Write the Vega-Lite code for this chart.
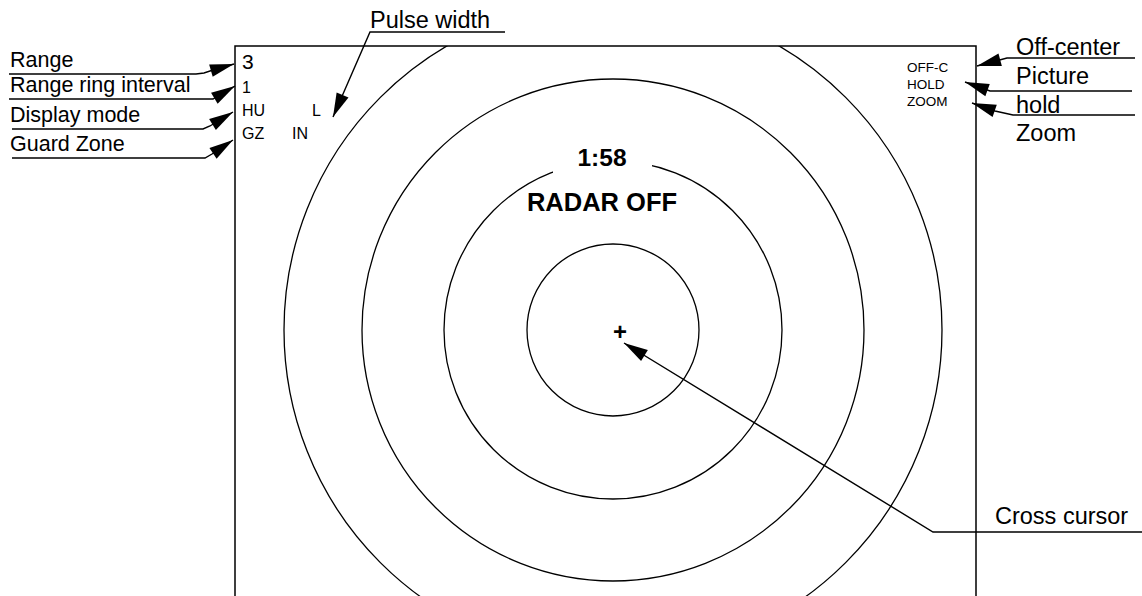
{
  "$schema": "https://vega.github.io/schema/vega-lite/v6.json",
  "width": 741,
  "height": 554,
  "autosize": "none",
  "padding": {"left": 235, "top": 46, "right": 166, "bottom": 0},
  "background": "white",
  "config": {"view": {"stroke": "black", "strokeWidth": 1.5}},
  "datasets": {
    "rings": [
      {"x": 613, "y": 330, "r": 86},
      {"x": 613, "y": 330, "r": 169},
      {"x": 613, "y": 330, "r": 251},
      {"x": 613, "y": 330, "r": 329}
    ],
    "gap": [{"x": 553, "x2": 652, "y": 150, "y2": 180}],
    "leaders": [
      {"id": "Range", "i": 0, "x": 9, "y": 74},
      {"id": "Range", "i": 1, "x": 196, "y": 74},
      {"id": "Range", "i": 2, "x": 204, "y": 73},
      {"id": "Range", "i": 3, "x": 213, "y": 70},
      {"id": "Range", "i": 4, "x": 234, "y": 64},
      {"id": "Interval", "i": 0, "x": 9, "y": 99},
      {"id": "Interval", "i": 1, "x": 213, "y": 99},
      {"id": "Interval", "i": 2, "x": 235, "y": 86},
      {"id": "Mode", "i": 0, "x": 12, "y": 129},
      {"id": "Mode", "i": 1, "x": 203, "y": 129},
      {"id": "Mode", "i": 2, "x": 210, "y": 126},
      {"id": "Mode", "i": 3, "x": 233, "y": 112},
      {"id": "Guard", "i": 0, "x": 12, "y": 158},
      {"id": "Guard", "i": 1, "x": 205, "y": 158},
      {"id": "Guard", "i": 2, "x": 212, "y": 154},
      {"id": "Guard", "i": 3, "x": 233, "y": 140},
      {"id": "Pulse", "i": 0, "x": 505, "y": 32},
      {"id": "Pulse", "i": 1, "x": 370, "y": 32},
      {"id": "Pulse", "i": 2, "x": 333, "y": 117},
      {"id": "Off", "i": 0, "x": 1135, "y": 58},
      {"id": "Off", "i": 1, "x": 1007, "y": 58},
      {"id": "Off", "i": 2, "x": 977, "y": 66},
      {"id": "Picture", "i": 0, "x": 1132, "y": 91},
      {"id": "Picture", "i": 1, "x": 990, "y": 91},
      {"id": "Picture", "i": 2, "x": 965, "y": 82},
      {"id": "Hold", "i": 0, "x": 1135, "y": 115},
      {"id": "Hold", "i": 1, "x": 1013, "y": 115},
      {"id": "Hold", "i": 2, "x": 995, "y": 111},
      {"id": "Hold", "i": 3, "x": 972, "y": 103},
      {"id": "Cross", "i": 0, "x": 1142, "y": 532},
      {"id": "Cross", "i": 1, "x": 933, "y": 532},
      {"id": "Cross", "i": 2, "x": 624, "y": 343}
    ],
    "heads": [
      {"id": "Range", "x": 234, "y": 64, "angle": -16},
      {"id": "Interval", "x": 235, "y": 86, "angle": -30.6},
      {"id": "Mode", "x": 233, "y": 112, "angle": -31.3},
      {"id": "Guard", "x": 233, "y": 140, "angle": -33.7},
      {"id": "Pulse", "x": 333, "y": 117, "angle": 113.5},
      {"id": "Off", "x": 977, "y": 66, "angle": 165},
      {"id": "Picture", "x": 965, "y": 82, "angle": -160},
      {"id": "Hold", "x": 972, "y": 103, "angle": -161},
      {"id": "Cross", "x": 624, "y": 343, "angle": -148.5}
    ],
    "leftLabels": [
      {"x": 10, "y": 67, "t": "Range"},
      {"x": 10, "y": 92, "t": "Range ring interval"},
      {"x": 10, "y": 122, "t": "Display mode"},
      {"x": 10, "y": 151, "t": "Guard Zone"}
    ],
    "bigLabels": [
      {"x": 370, "y": 28, "t": "Pulse width"},
      {"x": 1016, "y": 55, "t": "Off-center"},
      {"x": 1016, "y": 84, "t": "Picture"},
      {"x": 1016, "y": 113, "t": "hold"},
      {"x": 1016, "y": 141, "t": "Zoom"},
      {"x": 995, "y": 524, "t": "Cross cursor"}
    ],
    "rangeValue": [{"x": 242, "y": 69, "t": "3"}],
    "status": [
      {"x": 242, "y": 93, "t": "1"},
      {"x": 242, "y": 116, "t": "HU"},
      {"x": 312, "y": 116, "t": "L"},
      {"x": 242, "y": 139, "t": "GZ"},
      {"x": 292, "y": 139, "t": "IN"}
    ],
    "rightStatus": [
      {"x": 907, "y": 72, "t": "OFF-C"},
      {"x": 907, "y": 89, "t": "HOLD"},
      {"x": 907, "y": 106, "t": "ZOOM"}
    ],
    "timer": [{"x": 602, "y": 166, "t": "1:58"}],
    "radar": [{"x": 602, "y": 211, "t": "RADAR OFF"}],
    "cursor": [{"x": 620, "y": 340, "t": "+"}]
  },
  "encoding": {
    "x": {"field": "x", "type": "quantitative", "axis": null,
          "scale": {"domain": [235, 976], "nice": false, "zero": false}},
    "y": {"field": "y", "type": "quantitative", "axis": null,
          "scale": {"domain": [46, 600], "nice": false, "zero": false, "reverse": true}}
  },
  "layer": [
    {
      "data": {"name": "rings"},
      "mark": {"type": "point", "shape": "circle", "filled": false, "color": "black", "strokeWidth": 1.3, "opacity": 1, "clip": true},
      "encoding": {
        "size": {"field": "r", "type": "quantitative", "legend": null,
                 "scale": {"type": "pow", "exponent": 2, "domain": [0, 100], "range": [0, 40000]}}
      }
    },
    {
      "data": {"name": "gap"},
      "mark": {"type": "rect", "color": "white"},
      "encoding": {
        "x2": {"field": "x2"},
        "y2": {"field": "y2"}
      }
    },
    {
      "data": {"name": "leaders"},
      "mark": {"type": "line", "color": "black", "strokeWidth": 1.4},
      "encoding": {
        "detail": {"field": "id"},
        "order": {"field": "i", "type": "quantitative"}
      }
    },
    {
      "data": {"name": "heads"},
      "mark": {"type": "point", "shape": "M0,0L-1,-0.27L-1,0.27Z", "filled": true, "color": "black", "opacity": 1, "size": 2304, "strokeWidth": 0},
      "encoding": {
        "angle": {"field": "angle", "type": "quantitative", "scale": null}
      }
    },
    {
      "data": {"name": "leftLabels"},
      "mark": {"type": "text", "font": "Liberation Sans", "fontSize": 21.5, "align": "left", "baseline": "alphabetic", "color": "black"},
      "encoding": {"text": {"field": "t"}}
    },
    {
      "data": {"name": "bigLabels"},
      "mark": {"type": "text", "font": "Liberation Sans", "fontSize": 23.5, "align": "left", "baseline": "alphabetic", "color": "black"},
      "encoding": {"text": {"field": "t"}}
    },
    {
      "data": {"name": "rangeValue"},
      "mark": {"type": "text", "font": "Liberation Sans", "fontSize": 21, "align": "left", "baseline": "alphabetic", "color": "black"},
      "encoding": {"text": {"field": "t"}}
    },
    {
      "data": {"name": "status"},
      "mark": {"type": "text", "font": "Liberation Sans", "fontSize": 16, "align": "left", "baseline": "alphabetic", "color": "black"},
      "encoding": {"text": {"field": "t"}}
    },
    {
      "data": {"name": "rightStatus"},
      "mark": {"type": "text", "font": "Liberation Sans", "fontSize": 13.5, "align": "left", "baseline": "alphabetic", "color": "black"},
      "encoding": {"text": {"field": "t"}}
    },
    {
      "data": {"name": "timer"},
      "mark": {"type": "text", "font": "Liberation Sans", "fontSize": 24.5, "fontWeight": "bold", "align": "center", "baseline": "alphabetic", "color": "black"},
      "encoding": {"text": {"field": "t"}}
    },
    {
      "data": {"name": "radar"},
      "mark": {"type": "text", "font": "Liberation Sans", "fontSize": 25.5, "fontWeight": "bold", "align": "center", "baseline": "alphabetic", "color": "black"},
      "encoding": {"text": {"field": "t"}}
    },
    {
      "data": {"name": "cursor"},
      "mark": {"type": "text", "font": "Liberation Sans", "fontSize": 24, "fontWeight": "bold", "align": "center", "baseline": "alphabetic", "color": "black"},
      "encoding": {"text": {"field": "t"}}
    }
  ]
}
